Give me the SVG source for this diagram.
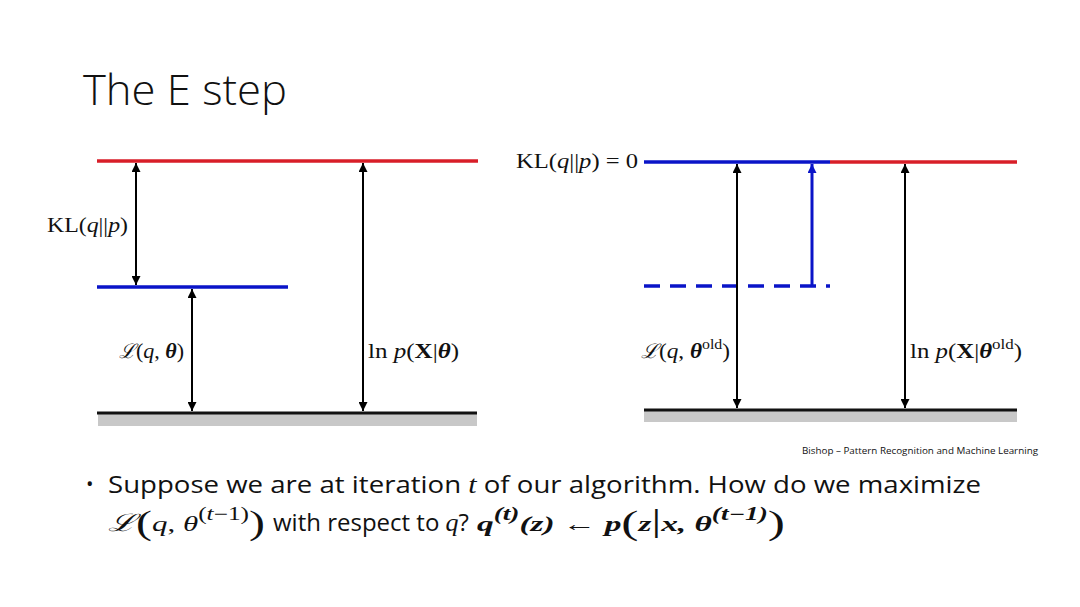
<svg xmlns="http://www.w3.org/2000/svg" width="1080" height="607" viewBox="0 0 1080 607">
<style>
.m{font-family:"Liberation Serif","DejaVu Serif",serif;font-size:22px;fill:#111}
.t{font-family:"Open Sans","Lato",sans-serif;fill:#111}
.red{stroke:#d81e28;stroke-width:3.5}
.blue{stroke:#0a14c8;stroke-width:3.5}
.base{stroke:#111;stroke-width:3}
.gnd{fill:#c8c8c8}
.arr{stroke:#000;stroke-width:2;marker-start:url(#ah);marker-end:url(#ah)}
.sc{font-family:"DejaVu Serif",serif;font-style:italic}
</style>
<defs>
<marker id="ah" viewBox="0 0 10 10" refX="10" refY="5" markerWidth="11" markerHeight="9" orient="auto-start-reverse" markerUnits="userSpaceOnUse"><path d="M0,0 L10,5 L0,10 z" fill="#000"/></marker>
<marker id="bh" viewBox="0 0 10 10" refX="10" refY="5" markerWidth="11" markerHeight="9" orient="auto" markerUnits="userSpaceOnUse"><path d="M0,0 L10,5 L0,10 z" fill="#0a14c8"/></marker>
</defs>
<rect width="1080" height="607" fill="#fff"/>
<text class="t" x="83" y="105" font-size="42" font-weight="300" textLength="204" lengthAdjust="spacingAndGlyphs">The E step</text>

<g id="left">
<rect class="gnd" x="98" y="413" width="379" height="13"/>
<line class="base" x1="97" y1="413" x2="477" y2="413"/>
<line class="red" x1="97" y1="161" x2="478" y2="161"/>
<line class="blue" x1="97" y1="287" x2="288" y2="287"/>
</g>
<g id="right">
<rect class="gnd" x="644" y="410" width="373" height="12"/>
<line class="base" x1="644" y1="410" x2="1017" y2="410"/>
<line class="red" x1="830" y1="162" x2="1017" y2="162"/>
<line class="blue" x1="644" y1="162" x2="830" y2="162"/>
<line class="blue" x1="644" y1="286" x2="830" y2="286" stroke-dasharray="16,10"/>
</g>
<g id="connectors">
<line class="arr" x1="136" y1="163" x2="136" y2="285"/>
<line class="arr" x1="192" y1="289" x2="192" y2="411"/>
<line class="arr" x1="363" y1="163" x2="363" y2="411"/>
<line class="arr" x1="737" y1="164" x2="737" y2="408"/>
<line class="arr" x1="905" y1="164" x2="905" y2="408"/>
<line stroke="#0a14c8" stroke-width="3" x1="812" y1="286" x2="812" y2="164" marker-end="url(#bh)"/>
</g>
<g id="labels">
<text class="m" x="47" y="232" textLength="81" lengthAdjust="spacingAndGlyphs">KL(<tspan font-style="italic">q</tspan>||<tspan font-style="italic">p</tspan>)</text>
<text class="m" x="119" y="358" textLength="65" lengthAdjust="spacingAndGlyphs"><tspan class="sc" font-size="20">ℒ</tspan>(<tspan font-style="italic">q</tspan>, <tspan font-weight="bold" font-style="italic">θ</tspan>)</text>
<text class="m" x="368" y="358" textLength="91" lengthAdjust="spacingAndGlyphs">ln <tspan font-style="italic">p</tspan>(<tspan font-weight="bold">X</tspan>|<tspan font-weight="bold" font-style="italic">θ</tspan>)</text>
<text class="m" x="516" y="168" textLength="122" lengthAdjust="spacingAndGlyphs">KL(<tspan font-style="italic">q</tspan>||<tspan font-style="italic">p</tspan>) = 0</text>
<text class="m" x="641" y="358" textLength="89" lengthAdjust="spacingAndGlyphs"><tspan class="sc" font-size="20">ℒ</tspan>(<tspan font-style="italic">q</tspan>, <tspan font-weight="bold" font-style="italic">θ</tspan><tspan font-size="15" dy="-9">old</tspan><tspan dy="9">)</tspan></text>
<text class="m" x="910" y="358" textLength="112" lengthAdjust="spacingAndGlyphs">ln <tspan font-style="italic">p</tspan>(<tspan font-weight="bold">X</tspan>|<tspan font-weight="bold" font-style="italic">θ</tspan><tspan font-size="15" dy="-9">old</tspan><tspan dy="9">)</tspan></text>
</g>
<text class="t" x="802" y="454" font-size="9.5" textLength="236" lengthAdjust="spacingAndGlyphs">Bishop – Pattern Recognition and Machine Learning</text>
<g id="bullet">
<text class="t" x="86" y="491" font-size="20">•</text>
<text class="t" x="108" y="493" font-size="24" textLength="873" lengthAdjust="spacingAndGlyphs">Suppose we are at iteration <tspan font-family="Liberation Serif" font-style="italic" font-size="26">t</tspan> of our algorithm. How do we maximize</text>
<text class="m" x="108" y="531" font-size="26" textLength="157" lengthAdjust="spacingAndGlyphs"><tspan class="sc" font-size="24">ℒ</tspan><tspan font-size="34" dy="3">(</tspan><tspan dy="-3" font-style="italic">q</tspan>, <tspan font-style="italic">θ</tspan><tspan font-size="18" dy="-11">(<tspan font-style="italic">t</tspan>−1)</tspan><tspan font-size="34" dy="14">)</tspan></text>
<text class="t" x="273" y="531" font-size="24">with respect to <tspan font-family="Liberation Serif" font-style="italic" font-size="26">q</tspan>?</text>
<text class="m" x="477" y="531" font-size="26" font-weight="bold" font-style="italic" textLength="308" lengthAdjust="spacingAndGlyphs">q<tspan font-size="18" dy="-11">(t)</tspan><tspan dy="11">(z) </tspan><tspan font-weight="normal" font-style="normal">←</tspan> p<tspan font-size="34" font-style="normal" font-weight="normal" dy="3">(</tspan><tspan dy="-3">z</tspan><tspan font-style="normal" font-weight="normal" font-size="32">|</tspan>x, θ<tspan font-size="18" dy="-11">(t−1)</tspan><tspan font-size="34" font-style="normal" font-weight="normal" dy="14">)</tspan></text>
</g>
</svg>
